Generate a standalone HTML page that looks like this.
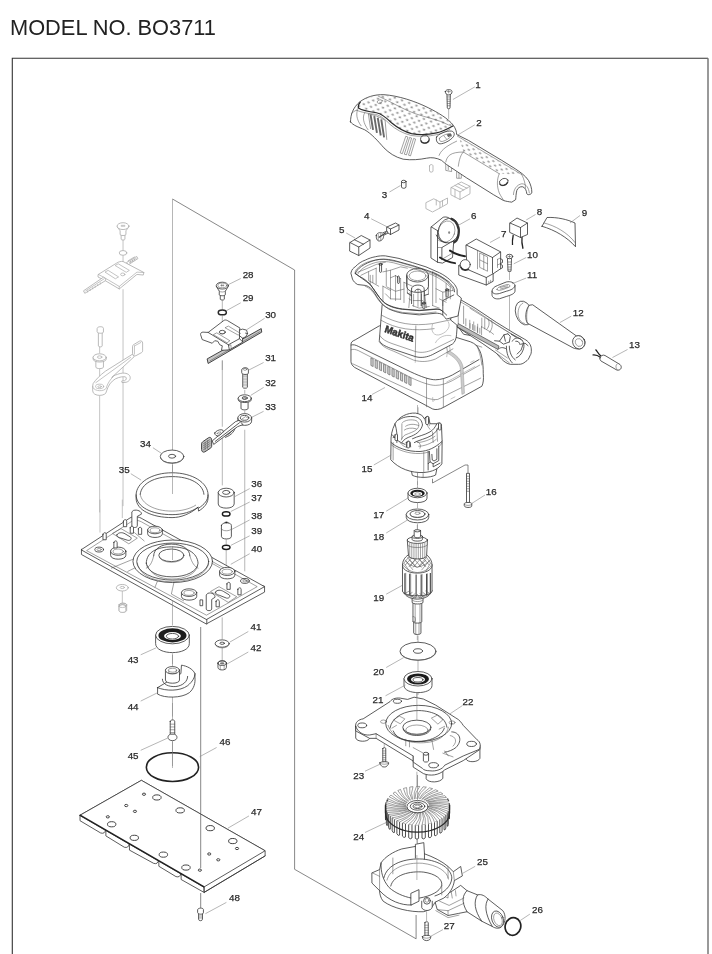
<!DOCTYPE html>
<html><head><meta charset="utf-8"><title>MODEL NO. BO3711</title>
<style>
html,body{margin:0;padding:0;background:#fff;}
body{width:712px;height:954px;overflow:hidden;position:relative;font-family:"Liberation Sans",sans-serif;}
svg{position:absolute;left:0;top:0;display:block;filter:grayscale(1)}
svg *{vector-effect:non-scaling-stroke}
svg text{font-family:"Liberation Sans",sans-serif;}
.t{font-size:9.8px;fill:#2a2a2a;text-anchor:middle;stroke:#2a2a2a;stroke-width:.25}
.l{stroke:#555;stroke-width:.7;fill:none}
.a{stroke:#858585;stroke-width:.6;fill:none}
.p{stroke:#333;stroke-width:.8;fill:#fff;stroke-linejoin:round;stroke-linecap:round}
.n{stroke:#333;stroke-width:.8;fill:none;stroke-linejoin:round;stroke-linecap:round}
.d{stroke:#555;stroke-width:.55;fill:none;stroke-linejoin:round;stroke-linecap:round}
.g{stroke:#aaa;stroke-width:.8;fill:#fff;stroke-linejoin:round;stroke-linecap:round}
.gn{stroke:#aaa;stroke-width:.7;fill:none;stroke-linejoin:round;stroke-linecap:round}
.k{fill:#222;stroke:none}
.s{fill:#999;stroke:none}
</style></head><body>
<svg width="712" height="954" viewBox="0 0 712 954">
<!-- 00_frame -->
<g id="frame">
<text x="10" y="34.5" font-size="21.8" fill="#222">MODEL NO. BO3711</text>
<path d="M12.3 954V58.3H708" fill="none" stroke="#333" stroke-width="1.1"/>
<path d="M708 58.3V954" fill="none" stroke="#777" stroke-width="1.5"/>
</g>
<!-- 01_axes -->
<g id="axes">
<!-- exploded-group box -->
<path class="l" d="M172.5 199L294.6 270V869.3L416.1 938.8V915"/>
<!-- main axis left -->
<path class="a" d="M172.5 199V452 M172.5 463V494 M172.5 546V560 M172.5 655V686 M172.5 703V722 M172.5 740V766"/>
</g>
<!-- 02_cover -->
<defs>
<pattern id="dots" width="46" height="40" patternUnits="userSpaceOnUse" patternTransform="rotate(20)">
<ellipse cx="11" cy="10" rx="8.5" ry="5.5" fill="#9a9a9a"/><ellipse cx="34" cy="30" rx="8.5" ry="5.5" fill="#9a9a9a"/>
</pattern>
<pattern id="dots2" width="46" height="36" patternUnits="userSpaceOnUse" patternTransform="rotate(31)">
<ellipse cx="11" cy="9" rx="8.5" ry="5.5" fill="#9a9a9a"/><ellipse cx="34" cy="27" rx="8.5" ry="5.5" fill="#9a9a9a"/>
</pattern>
</defs>
<g transform="translate(348 86) scale(0.16713)">
<!-- hooks under handle -->
<path class="d" d="M585,468 V505 L620,512 V490 M600,470 V500 M650,512 V552 L678,552 V530 M664,520 V550"/>
<!-- body outline -->
<path class="p" d="M15,215 C15,170 30,130 70,95 C110,65 160,50 215,52 C300,58 400,90 480,130 C540,160 600,195 630,235 C645,255 650,275 650,290 L720,325 L820,385 L920,445 L1000,495 C1030,515 1060,535 1080,565 C1092,585 1100,615 1100,635 C1100,650 1075,655 1070,645 C1068,625 1060,607 1045,603 C1030,600 1015,610 1010,625 C1005,645 1005,665 1003,680 L980,695 C960,692 945,690 930,685 L870,650 L790,600 L710,550 L650,510 L590,470 C575,458 565,450 560,445 C530,430 500,425 470,432 C430,440 380,445 330,438 C280,425 245,400 215,370 C180,330 140,285 100,262 C60,245 30,235 15,215 Z"/>
<!-- pad with dots -->
<path d="M75,95 C110,65 160,50 215,52 C300,58 400,90 480,130 C540,160 600,195 630,235 C600,255 560,275 530,280 C480,292 420,292 380,285 C330,272 290,245 260,220 C230,190 200,165 170,160 C130,155 90,150 62,132 C60,120 65,105 75,95Z" fill="url(#dots)" stroke="none"/>
<path stroke="#2a2a2a" stroke-width="1.2" fill="none" d="M75,95 C65,105 60,120 62,132 C90,150 130,155 170,160 C200,165 230,190 260,220 C290,245 330,272 380,285 C420,292 480,292 530,280 C560,275 600,255 630,238"/>
<path class="d" d="M50,145 C85,160 130,165 165,170 C195,176 222,200 252,230 C285,258 325,283 378,296 C420,303 480,303 532,291 C556,286 585,272 610,258"/>
<!-- center seam on pad -->
<path class="d" d="M180,60 C260,95 330,140 400,165 C470,190 540,200 600,232"/>
<!-- left rim -->
<path class="d" d="M62,132 C45,160 50,200 78,238 M20,165 C35,150 50,145 50,145"/>
<path class="d" d="M100,160 C85,185 90,220 120,262"/>
<!-- vents 1 -->
<path d="M135,172 L150,262 M157,180 L173,280 M178,190 L196,296 M199,200 L216,308" stroke="#6a6a6a" stroke-width="1.9" fill="none"/>
<path class="d" d="M122,168 C150,170 190,185 222,205 L232,320 M122,168 L135,255"/>
<!-- vents 2 -->
<path class="d" d="M345,303 L312,400 L325,405 L358,308Z M368,310 L337,408 L350,412 L380,314Z M392,316 L362,414 L374,418 L404,320Z"/>
<!-- boss -->
<ellipse class="n" cx="460" cy="318" rx="26" ry="24"/>
<path d="M436,325 C440,345 475,350 486,325" stroke="#333" stroke-width="1.3" fill="none"/>
<!-- switch opening -->
<path class="n" d="M530,305 C535,290 590,265 620,270 C640,275 640,295 625,310 C600,335 560,350 545,345 C530,340 525,320 530,305Z"/>
<path class="d" d="M548,312 C555,300 590,285 610,285 C622,288 620,298 612,306 C595,322 565,335 556,332 C546,328 545,320 548,312Z M575,300 L590,318 M600,288 L618,300"/>
<path d="M590,290 L615,284 L620,296 L600,306Z" fill="#666" stroke="none"/>
<!-- pad top hole -->
<ellipse class="d" cx="190" cy="93" rx="16" ry="10" transform="rotate(-20 190 93)"/>
<!-- handle dotted panel -->
<path d="M665,310 L1035,530 L905,525 L690,395Z" fill="url(#dots2)" stroke="none"/>
<path class="d" d="M655,300 L1040,530 M690,395 L905,525"/>
<!-- handle front ring -->
<path class="d" d="M545,415 C555,390 575,365 650,330 M585,455 C592,420 610,395 690,395 M660,480 C665,440 675,410 690,395"/>
<!-- end cap lines -->
<path class="d" d="M905,525 C890,560 890,600 905,640 C915,660 925,675 932,684 M1040,530 C1055,560 1062,590 1062,610"/>
<path class="d" d="M990,650 C990,620 1010,590 1040,585 C1065,585 1082,610 1085,640"/>
<ellipse class="n" cx="932" cy="574" rx="27" ry="20" transform="rotate(-25 932 574)"/>
<path d="M908,585 C915,600 945,598 956,575" stroke="#333" stroke-width="1.3" fill="none"/>
</g>
<!-- 03_small -->
<g transform="translate(330 170) scale(0.25)">
<!-- ghost connector/blocks -->
<path class="g" d="M385,130 L415,115 L440,128 L440,152 L410,168 L385,155Z M440,128 L470,112 L470,135 L440,152 M425,120 V140 M450,122 V142"/>
<path class="g" d="M485,70 L525,48 L560,65 L560,95 L520,118 L485,100Z M485,70 L520,88 L560,65 M520,88 V118 M500,62 L535,80 M512,55 L548,73 M500,78 V108"/>
<path class="g" d="M398,-16 V4 C398,10 412,10 412,4 V-16 C412,-24 398,-24 398,-16Z"/>
<!-- 3 -->
<path class="p" d="M286,46 V68 C286,75 304,75 304,68 V46"/>
<ellipse class="p" cx="295" cy="46" rx="9" ry="5"/>
<!-- 5 -->
<path class="p" d="M80,290 L125,262 L160,280 L160,312 L115,342 L80,325Z"/>
<path class="n" d="M80,290 L115,308 L160,280 M115,308 V342 M98,279 L134,297"/>
<!-- 4 -->
<path class="p" d="M228,228 L262,212 L276,220 L276,240 L242,258 L228,250Z"/>
<path class="n" d="M228,228 L242,236 L276,220 M242,236 V258"/>
<path class="p" d="M185,262 C185,252 200,248 210,252 L228,244 L232,252 L214,262 C216,275 205,285 195,284 C187,282 184,272 185,262Z"/>
<path class="d" d="M193,258 V280 M203,254 V282"/>
<path d="M195,270 L225,250" stroke="#444" stroke-width="1.4"/>
</g>
<g transform="translate(425 210) scale(0.125)">
<!-- 6 bracket -->
<path class="p" d="M50,135 L145,58 C165,52 190,58 200,70 L230,250 L220,380 L140,425 L100,418 L50,385Z"/>
<path class="n" d="M50,135 L100,165 L100,418 M100,165 L150,120 M135,395 V300 L220,250"/>
<path class="d" d="M100,235 C115,250 130,255 150,250 M100,300 L135,300"/>
<!-- 6 dial -->
<ellipse class="p" cx="190" cy="165" rx="82" ry="100" transform="rotate(18 190 165)"/>
<path d="M205,68 C250,85 280,140 268,200 C262,235 245,255 228,262" stroke="#333" stroke-width="2.2" fill="none"/>
<ellipse class="d" cx="172" cy="172" rx="66" ry="86" transform="rotate(18 172 172)"/>
<ellipse cx="193" cy="180" rx="8" ry="11" fill="#888"/>
<path class="n" d="M90,200 C110,240 140,262 170,262 M215,255 L240,240"/>
<!-- wires -->
<path d="M200,325 C230,345 280,365 320,370 M120,380 C150,400 200,420 240,425" stroke="#222" stroke-width="2" fill="none" stroke-linecap="round"/>
<path class="d" d="M135,395 L220,345"/>
<!-- 7 switch -->
<path class="p" d="M330,280 L410,232 L605,335 L605,470 L545,510 L545,570 L490,600 L270,520 L270,445 L330,400Z"/>
<path class="n" d="M330,280 L540,380 L605,335 M540,380 V505 M270,445 L490,540 L545,510 M490,540 V600"/>
<path class="d" d="M420,325 V470 M440,345 L500,375 V490 L440,460Z M440,400 L500,430 M470,360 V475 M580,395 L600,385 M580,440 L600,430 M580,395 V460"/>
<path class="n" d="M605,390 L620,398 V420 L605,428 M605,435 L620,443 V462 L605,470"/>
<circle class="p" cx="322" cy="437" r="40"/>
<path d="M285,455 C295,480 330,490 352,470" stroke="#333" stroke-width="1.6" fill="none"/>
<path class="d" d="M510,570 v15 M525,562 v15"/>
</g>
<!-- 04_screw1 -->
<g transform="translate(420 70) scale(0.16854)">
<path class="a" d="M170,232 V290"/>
<path class="p" d="M160,145 L162,225 C162,232 178,232 178,225 L180,145Z"/>
<path class="d" d="M161,160 h18 M161,173 h18 M162,186 h17 M162,199 h16 M162,212 h16"/>
<path class="p" d="M150,128 C150,112 190,112 190,128 C190,140 182,148 170,148 C158,148 150,140 150,128Z"/>
<path class="d" d="M160,128 h20 M170,120 v16"/>
</g>
<!-- 08_right_small -->
<g transform="translate(480 195) scale(0.25)">
<!-- axis 10-11 -->
<path class="a" d="M118,305 V340 M118,395 V560"/>
<!-- 8 capacitor -->
<path d="M133,160 C130,175 128,185 130,200 M168,165 C166,185 168,200 172,215" stroke="#222" stroke-width="1.3" fill="none"/>
<path class="p" d="M120,112 L148,92 L190,112 L190,158 L162,170 L120,150Z"/>
<path class="n" d="M120,112 L162,130 L190,112 M162,130 V170"/>
<!-- 9 plate -->
<path class="p" d="M248,125 L268,90 C310,88 350,98 380,112 L382,207 C350,170 300,140 248,125Z"/>
<path class="d" d="M256,112 C300,122 350,150 380,190"/>
<!-- 10 screw -->
<path class="p" d="M110,255 L112,305 L124,305 L126,255Z"/>
<path class="d" d="M111,268 h14 M111,278 h14 M112,288 h12 M112,297 h12"/>
<ellipse class="p" cx="118" cy="246" rx="13" ry="9"/>
<path class="d" d="M112,246 h12 M118,241 v10"/>
<!-- 11 clamp -->
<path class="p" d="M48,385 C48,375 55,368 70,362 L105,348 C122,344 138,350 140,362 L140,385 C138,395 125,400 105,406 L78,415 C60,418 48,410 48,400Z"/>
<path class="n" d="M48,385 C50,395 62,398 78,394 L105,385 C125,380 138,374 140,362"/>
<path class="d" d="M68,378 C68,372 75,368 85,365 L108,358 C118,357 122,362 118,368 L92,378 C80,382 68,384 68,378Z M80,370 L110,363 M82,376 L112,368"/>
<!-- 12 cord guard -->
<ellipse class="p" cx="176" cy="472" rx="33" ry="49" transform="rotate(-18 176 472)"/>
<path class="d" d="M172,432 C155,440 150,465 153,485 C156,500 165,512 178,514"/>
<path class="p" d="M212,440 L386,564 C400,560 415,568 420,586 C422,604 408,618 392,616 C380,615 372,612 368,609 L190,513 C180,500 180,460 196,442Z"/>
<path class="d" d="M196,442 C186,460 184,495 190,513"/>
<ellipse class="p" cx="395" cy="589" rx="24" ry="27" transform="rotate(-25 395 589)"/>
<ellipse class="d" cx="396" cy="590" rx="14" ry="16" transform="rotate(-25 396 590)"/>
<!-- 13 -->
<path d="M462,618 C470,625 472,635 485,645 M450,640 C462,638 472,642 483,650" stroke="#222" stroke-width="1.2" fill="none"/>
<path class="p" d="M480,652 C482,642 492,638 500,642 L560,678 C568,685 566,698 556,700 C550,702 546,700 540,696 L484,664 C480,660 479,656 480,652Z"/>
<path class="d" d="M548,676 C542,682 542,692 548,698"/>
</g>
<!-- 14_housing -->
<g transform="translate(340 250) scale(0.2809)">
<path class="a" d="M278,560 V600"/>
<!-- base skirt -->
<path class="p" d="M39,335 C39,328 44,324 54,320 L140,270 L407,309 L465,327 C480,333 490,342 494,352 C505,370 510,400 510,440 C512,460 510,475 505,485 L369,560 C355,568 340,570 330,566 L52,418 C44,412 39,405 39,398Z"/>
<path class="n" d="M40,338 C48,336 55,338 65,343 L250,433 C290,452 320,462 340,462 C360,462 380,455 400,445 L495,390"/>
<path class="d" d="M40,355 C48,352 55,354 65,358 L250,453 C290,472 320,482 340,482 C360,482 380,475 400,465 L497,410 M45,405 L312,528 C330,533 340,533 348,532 L501,456"/>
<path class="d" d="M308,458 V558 M368,460 V560"/>
<!-- gray strap + ghost inner lines on base -->
<path d="M380,366 C405,380 422,395 428,418 L434,514 L443,510 L438,415 C432,390 412,372 390,360Z" fill="#ccc" stroke="#999" stroke-width=".5"/>
<path class="gn" d="M300,250 C340,300 385,340 384,366 M320,250 C360,290 395,330 392,360 M380,470 L480,415 M360,300 C380,330 385,350 380,380 M250,330 C265,360 270,380 268,400 M395,530 l14,-7 M330,525 v14 l6,-3 M465,400 l12,-6"/>
<!-- vents -->
<path d="M110,384.0 l8,4 v27 l-8,-4z M125,391.5 l8,4 v27 l-8,-4z M140,399.0 l8,4 v27 l-8,-4z M155,406.5 l8,4 v27 l-8,-4z M170,414.0 l8,4 v27 l-8,-4z M185,421.5 l8,4 v27 l-8,-4z M200,429.0 l8,4 v27 l-8,-4z M215,436.5 l8,4 v27 l-8,-4z M230,444.0 l8,4 v27 l-8,-4z M245,451.5 l8,4 v27 l-8,-4z " fill="#d0d0d0" stroke="#666" stroke-width=".7"/>
<!-- neck -->
<path class="p" d="M150,195 L140,322 C145,335 160,342 180,350 L270,380 C290,385 310,382 330,372 L400,335 C410,328 414,315 415,300 L420,235Z"/>
<path class="d" d="M148,232 C200,262 260,272 330,262 L410,245 M270,270 L268,380 M146,250 C200,282 262,290 335,280 M142,305 C150,318 165,326 185,333 L270,362 C290,367 310,364 330,355 L405,318"/>
<path class="gn" d="M330,262 C320,290 335,310 360,300 C385,290 395,270 385,255 M340,330 C350,310 375,300 395,305"/>
<path class="d" d="M139,326 C150,345 170,352 190,360 L262,392 C290,400 315,398 340,388 L402,352"/>
<text x="0" y="0" transform="matrix(.95 .33 -.12 1 158 292)" font-size="36" font-weight="bold" font-style="italic" fill="#333" stroke="#333" stroke-width=".5" textLength="108" lengthAdjust="spacingAndGlyphs">Makita</text>
<circle class="k" cx="258" cy="308" r="3"/>
<!-- handle lower half -->
<path class="p" d="M405,160 L421,172 L481,207 L556,257 L616,294 L656,317 C672,325 680,338 681,352 C682,365 680,372 676,377 C672,388 668,393 661,397 C652,405 645,407 636,407 L606,407 C595,405 585,398 576,389 L556,367 L506,332 L463,304 L440,300 L416,267 L395,250Z"/>
<path class="d" d="M425,182 L482,215 L556,265 L616,302 L650,322"/>
<path d="M421,262 L566,342 L562,354 L417,274Z" fill="#bbb" stroke="#444" stroke-width=".7"/>
<path class="d" d="M448,245 v25 M462,250 v28 M476,256 v30 M490,264 v30 M504,272 v30"/>
<path class="d" d="M440,200 V262 M421,172 V262 "/>
<path class="n" d="M562,354 C570,346 580,345 592,352 M417,274 L463,304"/>
<!-- top rim -->
<path class="p" d="M39,81 C42,68 48,64 54,60 C65,48 78,40 90,36 C102,30 114,26 126,24 C138,21 150,20 162,21 L210,30 L258,45 L306,60 L354,81 C368,88 380,96 390,105 C398,112 404,118 408,123 C413,130 416,136 417,141 L417,159 L432,171 L420,235 L378,246 C372,238 368,234 366,231 C358,226 350,225 342,225 L282,231 L222,225 C205,222 188,216 174,210 C165,205 157,199 150,192 L132,168 C126,158 120,148 114,141 C106,132 98,128 90,126 L63,123 C54,118 48,112 45,105Z"/>
<path class="n" d="M54,84 C65,92 75,97 84,102 C93,108 101,115 108,123 L129,153 C135,163 142,172 150,180 C157,188 165,194 174,198 C188,205 205,209 222,211 L282,216 L342,211 C350,210 357,212 363,216 L380,232"/>
<path class="d" d="M54,84 C52,75 58,68 66,62 C78,50 100,40 126,36 C140,33 152,33 162,34 L208,43 L255,57 L302,72 L348,92 C365,100 380,112 392,125 C398,132 402,140 403,146"/>
<!-- interior -->
<path class="n" d="M237,90 V130 C240,158 312,158 315,130 V90"/>
<ellipse class="p" cx="276" cy="90" rx="39" ry="24"/>
<ellipse class="d" cx="276" cy="92" rx="30" ry="17"/>
<path class="d" d="M250,150 L245,205 M300,150 L308,205 M262,158 V200 M290,158 V200"/>
<path class="n" d="M366,231 L366,180 L405,160"/>
</g>
<!-- 14b_housing_detail -->
<g transform="translate(345 250) scale(0.16854)">
<path class="d" d="M75,132 L130,110 L185,86 L240,72 M95,150 L140,128 V182 L165,195 M140,128 L185,108 M165,150 L165,195 L200,215 M185,108 V200 M225,130 L270,120 V290 M270,120 L330,100 L370,108 M300,152 V300 M300,152 L270,165 M330,170 V292 M350,192 V312 M330,170 L300,152 M350,192 L400,215 M250,220 L300,245 L350,232 M240,260 L270,290 L330,292 M520,130 V330 M540,142 V312 M520,130 L560,150 L620,190 M540,230 L580,250 L640,240 M580,250 V330 M560,290 L600,310 M600,200 V300 M625,215 V290 M520,330 L560,345 M400,330 L440,345 L500,335"/>
<path class="n" d="M395,230 C395,200 470,200 470,232 V320 M415,245 C415,228 452,228 452,246 V330 M395,230 V318 M370,255 L395,270 M470,270 L495,262"/>
<path class="d" d="M433,232 V335 M405,300 h55 M380,290 L395,300"/>
<path class="p" d="M205,88 V128 C205,134 217,134 217,128 V88 C217,78 205,78 205,88Z"/>
<ellipse class="n" cx="211" cy="84" rx="10" ry="6"/>
<path class="p" d="M600,240 V275 C600,281 612,281 612,275 V240 C612,230 600,230 600,240Z"/>
<ellipse class="n" cx="606" cy="236" rx="10" ry="6"/>
<path class="p" d="M462,318 V345 C462,350 474,350 474,345 V318 C474,310 462,310 462,318Z"/>
<ellipse class="n" cx="468" cy="315" rx="10" ry="6"/>
<path class="p" d="M312,160 V195 C312,200 322,200 322,195 V160 C322,152 312,152 312,160Z"/>
<!-- rim inner double line -->
<path class="n" d="M62,138 C70,112 110,80 180,60 C215,52 245,52 290,62 L400,92 L480,118 C545,140 600,172 635,210 C645,222 650,235 650,248"/>
<path class="d" d="M78,140 C88,118 120,92 182,74 C215,66 245,66 288,76 L396,106 L476,132 C535,152 585,180 620,215"/>
<path class="n" d="M62,138 C85,160 120,180 150,205 C175,235 195,275 225,305 C250,328 290,342 340,350 L440,358 L540,350 C560,350 572,355 580,365"/>
<path class="d" d="M370,150 V255 M495,150 V262 M370,255 C385,270 395,272 395,272 M150,205 L150,150 M225,305 V215 M245,110 V215 M225,215 L270,240"/>
<!-- rim thickness shading lines -->
<path class="d" d="M120,215 C150,225 172,255 195,292 C215,322 245,345 290,358 L340,370 L440,378 L540,368"/>
</g>
<!-- 14c_handle_detail -->
<g transform="translate(470 295) scale(0.098315)">
<path class="d" d="M0,135 L400,385 L520,450 M120,235 V330 M150,240 V345 M185,245 C200,270 200,320 170,350 M215,260 C235,290 230,340 200,380 M130,330 L215,380 L240,400 M0,290 V340 M25,300 V352 M50,312 V365 M75,325 V378 M100,338 V390"/>
<path class="n" d="M250,465 L300,470 L345,405 L385,395 M300,470 L340,500 L395,480 M345,405 L360,470 M385,395 L410,420 L400,480 M420,400 L470,430 M430,470 C445,440 480,430 510,445 C545,465 560,510 540,560 C525,600 500,630 470,640 M465,470 C485,465 505,480 510,505 M520,500 L560,490 L590,515 M480,600 L520,560 L540,500 M400,520 C400,580 420,630 460,660 M370,520 C370,590 390,650 430,690"/>
<path class="d" d="M260,560 L380,640 M280,600 L400,690 M60,510 L120,530 M70,520 C90,560 110,620 120,712"/>
</g>
<!-- 15_field -->
<g transform="translate(380 405) scale(0.125)">
<!-- centerline -->
<path class="a" d="M300,0 V75 M300,580 V640"/>
<!-- bottom stub -->
<path class="p" d="M250,520 L258,562 C300,585 400,585 445,560 L455,510Z"/>
<path class="d" d="M300,545 V578 M345,548 V582"/>
<!-- body -->
<path class="p" d="M88,300 C85,250 95,200 120,150 C150,95 220,60 285,65 C320,70 345,85 355,110 L370,95 C385,85 395,95 392,110 L400,150 L455,150 C470,135 495,145 492,170 L497,290 L495,470 C470,510 420,535 350,540 C250,545 150,510 88,440Z"/>
<!-- top inner shapes -->
<path class="n" d="M120,150 C135,200 140,250 135,300 M150,120 C170,100 230,85 285,95 C320,105 335,125 340,160 C330,200 300,230 250,250 C215,262 190,275 175,300"/>
<path class="d" d="M180,140 C200,120 250,112 290,125 C312,140 318,165 300,190 C275,215 235,225 200,240 C185,250 175,262 170,280 M175,150 V270"/>
<path class="n" d="M100,240 C120,275 160,300 200,315 M105,260 L130,250 L140,285 M210,300 C215,285 240,285 242,300 L245,335 M210,300 L212,335"/>
<path class="n" d="M260,270 C300,250 360,240 400,215 C425,200 440,180 455,150 M275,300 C310,280 370,270 410,245 C440,225 460,200 470,175"/>
<path class="d" d="M290,290 C320,300 330,320 320,345 M355,110 C365,140 380,170 400,195 M370,95 L372,140 M392,110 L394,165"/>
<!-- extra field detail -->
<path class="p" d="M366,100 V150 C366,158 388,158 388,150 V100 C388,88 366,88 366,100Z"/>
<path class="p" d="M468,152 V195 C468,202 488,202 488,195 V152 C488,142 468,142 468,152Z"/>
<path class="p" d="M120,240 V280 C120,287 140,287 140,280 V240 C140,230 120,230 120,240Z"/>
<path class="p" d="M215,298 V338 C215,345 237,345 237,338 V298 C237,288 215,288 215,298Z"/>
<path class="d" d="M205,170 C230,150 280,150 310,165 M195,200 C215,185 250,180 290,190 M160,300 C175,320 195,335 215,340 M300,300 C340,300 400,280 440,250 M310,330 C350,330 410,310 450,275 M420,215 L425,300 M455,190 L460,290 M105,300 V440 M470,330 C485,325 492,315 495,300"/>
<!-- lamination band top edge -->
<path class="n" d="M88,300 C130,340 220,375 320,372 C380,368 440,345 497,290"/>
<path class="d" d="M92,320 C135,358 225,392 322,388 C360,385 380,380 395,372"/>
<!-- terminal slot -->
<path class="n" d="M385,372 V520 M395,372 L400,455 L425,470 L470,445 L470,330 M415,395 L418,440 L432,448 L455,435 L455,350 M400,455 L385,470 M425,470 L425,495 L480,465"/>
<path class="d" d="M350,380 V538"/>
</g>
<g transform="translate(340 380) scale(0.25)">
<!-- 16 screw + bracket line -->
<path class="l" d="M370,395 V412 L500,340 H512 V372"/>
<path class="p" d="M506,375 L506,492 L518,492 L518,375Z"/>
<path class="d" d="M506,385 h12 M506,395 h12 M506,405 h12 M506,415 h12 M506,425 h12 M506,435 h12 M506,445 h12"/>
<path class="p" d="M497,494 C497,488 527,488 527,494 L527,504 C527,512 497,512 497,504Z"/>
<path class="d" d="M497,498 C505,503 519,503 527,498"/>
<!-- 17 bearing -->
<path class="a" d="M310,405 V432 M310,490 V512 M310,575 V598"/>
<path class="p" d="M272,452 L272,473 C272,496 348,496 348,473 L348,452"/>
<ellipse class="p" cx="310" cy="452" rx="38" ry="19"/>
<path d="M281,453 A29,14 0 1 0 339,453 A29,14 0 1 0 281,453Z M291,455 A19,8.5 0 1 1 329,455 A19,8.5 0 1 1 291,455Z" fill="#1c1c1c" fill-rule="evenodd"/>
<ellipse class="d" cx="310" cy="456" rx="11" ry="5"/>
<!-- 18 washer -->
<path class="p" d="M265,538 L265,550 C265,578 355,578 355,550 L355,538"/>
<ellipse class="p" cx="310" cy="538" rx="45" ry="22"/>
<ellipse class="n" cx="310" cy="536" rx="30" ry="14"/>
<ellipse class="d" cx="310" cy="533" rx="10" ry="5"/>
<path class="d" d="M282,542 C290,552 330,552 338,542"/>
</g>
<!-- 19_armature -->
<g transform="translate(385 525) scale(0.1206)">
<path class="a" d="M268,0 V40 M268,915 V954"/>
<!-- lower shaft -->
<path class="p" d="M238,805 V895 C238,912 298,912 298,895 V805Z"/>
<path class="d" d="M255,815 V902 M282,815 V902"/>
<path class="p" d="M232,645 V800 C232,818 305,818 305,800 V645Z"/>
<path class="d" d="M250,655 V808 M290,655 V808 M232,760 C245,755 255,765 250,800 L232,800"/>
<!-- collar -->
<path class="p" d="M225,600 V640 C225,660 315,660 315,640 V600Z"/>
<path class="d" d="M225,622 C235,640 305,640 315,622"/>
<!-- lower coil -->
<path class="p" d="M148,545 C160,585 200,612 268,615 C335,612 378,585 390,545Z"/>
<path class="d" d="M200,575 L240,600 M300,600 L340,575 M268,570 L240,600 M268,570 L300,600"/>
<!-- core -->
<path class="p" d="M145,330 V548 C150,600 385,600 390,548 V330Z"/>
<path d="M165,400 V570 M205,405 V585 M258,410 V590 M300,410 V588 M345,405 V580 M376,398 V565" stroke="#444" stroke-width="1.1" fill="none"/>
<path class="d" d="M172,400 V572 M213,405 V586 M308,410 V588 M352,405 V578"/>
<!-- upper coil -->
<path class="p" d="M190,250 C160,270 145,300 145,335 C150,420 385,420 390,335 C390,300 375,270 348,250Z"/>
<path class="d" d="M175,300 C200,330 230,345 268,348 C305,345 340,330 365,300 M200,290 L255,345 M250,290 L210,340 M290,290 L335,340 M340,290 L285,345 M160,320 L200,380 M375,320 L340,380"/>
<!-- extra coil hatch -->
<path class="d" d="M160,560 C190,590 230,602 268,604 C310,602 350,590 378,560 M185,585 L225,560 M215,600 L250,568 M250,608 L268,575 L290,608 M320,600 L290,568 M350,586 L315,560 M170,565 L200,548 M368,565 L338,548"/>
<path class="d" d="M150,330 C180,375 230,392 268,394 C310,392 360,375 388,330 M165,290 L230,370 M190,270 L262,352 M225,262 L300,350 M265,262 L335,345 M305,262 L365,330 M345,270 L380,318 M372,290 L305,372 M345,268 L272,352 M310,262 L235,350 M270,262 L200,345 M230,262 L170,330 M195,268 L155,318"/>
<!-- commutator -->
<path class="p" d="M185,125 L195,255 C200,290 340,290 345,255 L352,125Z"/>
<path class="d" d="M205,150 V272 M222,155 V278 M240,158 V281 M258,160 V283 M276,160 V283 M294,158 V281 M312,155 V278 M330,150 V272"/>
<ellipse class="p" cx="268" cy="125" rx="84" ry="28"/>
<path class="d" d="M186,165 C200,195 335,195 351,165"/>
<!-- top collar and shaft -->
<path class="p" d="M225,95 V120 C225,138 310,138 310,120 V95Z"/>
<ellipse class="p" cx="268" cy="97" rx="43" ry="14"/>
<path class="p" d="M242,48 V95 C242,108 295,108 295,95 V48Z"/>
<ellipse class="p" cx="268" cy="48" rx="26" ry="9"/>
</g>
<g transform="translate(340 520) scale(0.25)">
<path class="a" d="M312,462 V488 M312,562 V604 M312,665 V700"/>
<!-- 20 washer -->
<ellipse class="p" cx="312" cy="525" rx="72" ry="36"/>
<path class="d" d="M241,530 C250,570 372,572 384,530"/>
<ellipse class="n" cx="312" cy="524" rx="18" ry="9"/>
<!-- 21 bearing -->
<path class="p" d="M256,635 V662 C256,700 368,700 368,662 V635"/>
<ellipse class="p" cx="312" cy="635" rx="56" ry="29"/>
<path d="M268,636 A44,22 0 1 0 356,636 A44,22 0 1 0 268,636Z M284,638 A28,13 0 1 1 340,638 A28,13 0 1 1 284,638Z" fill="#1c1c1c" fill-rule="evenodd"/>
<ellipse class="n" cx="312" cy="639" rx="20" ry="9"/>

</g>
<!-- 22_bearingbox -->
<g transform="translate(352 692) scale(0.18539)">
<path class="a" d="M350,0 V150 M350,430 V512"/>
<!-- legs -->
<path class="p" d="M20,185 V248 C25,270 85,272 95,250 V225Z"/>
<path class="p" d="M615,330 V362 C625,382 680,380 690,358 V300Z"/>
<path class="p" d="M400,420 V468 C410,492 478,490 490,465 V420Z"/>
<!-- plate side (thickness) -->
<path class="p" d="M20,185 L20,210 L95,250 L130,250 L330,372 L330,405 L385,440 C420,455 470,450 500,420 L600,370 L690,310 L690,285 L600,300 L330,300 Z"/>
<!-- top face -->
<path class="p" d="M20,185 C15,165 35,148 60,145 L205,52 C215,35 245,28 270,35 L300,40 L335,28 L385,38 L450,70 L560,140 C580,150 590,165 600,180 L675,258 C695,270 695,295 685,310 L600,345 L500,395 C490,415 455,430 420,425 C400,425 385,420 380,412 L330,378 L330,345 L130,225 L95,232 C60,235 30,215 20,185Z"/>
<path class="d" d="M130,225 L130,250 M330,345 L330,372"/>
<!-- corner holes -->
<ellipse class="n" cx="55" cy="180" rx="24" ry="13"/>
<ellipse class="n" cx="245" cy="50" rx="22" ry="11"/>
<ellipse class="n" cx="645" cy="280" rx="26" ry="14"/>
<ellipse class="n" cx="440" cy="395" rx="26" ry="14"/>
<ellipse class="d" cx="170" cy="160" rx="16" ry="9"/>
<ellipse class="d" cx="540" cy="165" rx="16" ry="9"/>
<!-- rings -->
<ellipse class="n" cx="360" cy="170" rx="178" ry="98"/>
<path class="n" d="M205,195 C215,130 290,100 360,100 C440,102 505,135 512,190"/>
<path class="d" d="M195,180 C220,260 330,285 420,270 C480,258 515,225 520,190"/>
<path class="n" d="M222,210 C240,262 330,275 400,262 C450,252 490,225 498,195"/>
<ellipse class="n" cx="350" cy="190" rx="76" ry="38"/>
<path class="n" d="M276,200 C285,245 410,248 425,200"/>
<ellipse class="d" cx="350" cy="205" rx="60" ry="27"/>
<!-- spokes/pockets -->
<path class="d" d="M225,150 L255,130 L285,145 L262,170Z M430,140 L460,125 L490,150 L465,172Z M215,195 L240,180 M470,200 L500,185"/>
<!-- right half ring -->
<path class="n" d="M538,215 C580,215 600,260 560,300 C545,312 520,322 500,325"/>
<path class="d" d="M530,235 C560,240 570,268 545,292 M490,330 L545,350 M500,318 L520,345"/>
<!-- front posts -->
<path class="p" d="M385,335 V372 C388,380 410,380 413,372 V335"/>
<ellipse class="p" cx="399" cy="333" rx="14" ry="8"/>
<path class="d" d="M290,255 V290 M310,262 V296 M430,255 L440,310 M330,300 L385,330"/>
<!-- 23 screw -->
<path class="p" d="M166,305 V378 H182 V305 C182,298 166,298 166,305Z"/>
<path class="d" d="M166,318 h16 M166,330 h16 M166,342 h16 M166,354 h16 M166,366 h16"/>
<path class="p" d="M150,382 C150,374 198,374 198,382 C198,392 190,396 188,400 C185,406 163,406 160,400 C158,396 150,392 150,382Z"/>
<path class="d" d="M150,384 C160,392 188,392 198,384"/>
<path class="a" d="M174,278 V298"/>
</g>
<!-- 24_fan -->
<g transform="translate(378 775) scale(0.11798)">
<path class="a" d="M335,0 V225 M335,545 V636"/>
<path d="M63,262 A272,165 0 0 1 607,262 V380 A272,165 0 0 1 63,380 Z" fill="#fff" stroke="none"/>
<path d="M433,264 Q519,274 596,308 L587,324 Q517,282 432,268 M430,276 Q511,297 575,340 L560,354 Q506,304 428,280 M423,288 Q495,318 543,368 L524,381 Q488,325 420,291 M412,298 Q472,337 502,392 L479,402 Q463,343 408,302 M398,307 Q444,353 454,410 L428,417 Q433,357 393,310 M381,314 Q410,365 401,422 L373,425 Q398,367 375,316 M362,319 Q373,372 344,427 L316,427 Q361,373 356,320 M342,321 Q335,374 288,424 L260,421 Q322,374 335,321 M322,321 Q296,372 233,415 L207,408 Q284,370 315,320 M302,318 Q260,364 183,399 L160,388 Q248,361 296,316 M284,313 Q226,353 139,377 L120,363 Q216,348 278,310 M267,305 Q198,337 104,349 L90,334 Q189,331 263,302 M254,295 Q175,318 79,318 L71,302 Q169,311 250,292 M244,285 Q159,297 66,285 L63,268 Q156,289 242,281 M239,273 Q151,274 64,250 L67,233 Q150,266 238,268 M237,260 Q151,250 74,216 L83,200 Q153,242 238,256 M240,248 Q159,227 95,184 L110,170 Q164,220 242,244 M247,236 Q175,206 127,156 L146,143 Q182,199 250,233 M258,226 Q198,187 168,132 L191,122 Q207,181 262,222 M272,217 Q226,171 216,114 L242,107 Q237,167 277,214 M289,210 Q260,159 269,102 L297,99 Q272,157 295,208 M308,205 Q297,152 326,97 L354,97 Q309,151 314,204 M328,203 Q335,150 382,100 L410,103 Q348,150 335,203 M348,203 Q374,152 437,109 L463,116 Q386,154 355,204 M368,206 Q410,160 487,125 L510,136 Q422,163 374,208 M386,211 Q444,171 531,147 L550,161 Q454,176 392,214 M403,219 Q472,187 566,175 L580,190 Q481,193 407,222 M416,229 Q495,206 591,206 L599,222 Q501,213 420,232 M426,239 Q511,227 604,239 L607,256 Q514,235 428,243 M431,251 Q519,250 606,274 L603,291 Q520,258 432,256 " stroke="#505050" stroke-width=".55" fill="none" stroke-linejoin="round"/>
<path d="M596,308 V418 Q592,442 587,434 V324 M575,340 V450 Q568,473 560,464 V354 M543,368 V478 Q533,500 524,491 V381 M502,392 V502 Q491,523 479,512 V402 M454,410 V520 Q441,540 428,527 V417 M401,422 V532 Q387,550 373,535 V425 M344,427 V537 Q330,553 316,537 V427 M288,424 V534 Q274,549 260,531 V421 M233,415 V525 Q220,537 207,518 V408 M183,399 V509 Q171,520 160,498 V388 M139,377 V487 Q130,496 120,473 V363 M104,349 V459 Q97,468 90,444 V334 M79,318 V428 Q75,436 71,412 V302 M66,285 V382 Q64,389 63,364 V268 M64,250 V302 Q65,310 67,285 V233 M74,216 V224 Q78,232 83,208 V200 M591,206 V200 Q595,224 599,216 V222 M604,239 V277 Q606,301 607,294 V256 M606,274 V356 Q605,380 603,373 V291 " stroke="#2e2e2e" stroke-width=".85" fill="#fff" stroke-linejoin="round"/>
<path d="M63,252 V320 A272,165 0 0 0 607,320 V252" fill="none" stroke="#2a2a2a" stroke-width="1.2"/>
<ellipse class="p" cx="335" cy="268" rx="90" ry="52"/>
<path class="d" d="M245,275 C255,338 415,338 425,275"/>
<ellipse class="n" cx="335" cy="265" rx="62" ry="33"/>
<ellipse class="n" cx="335" cy="265" rx="38" ry="19"/>
<ellipse class="d" cx="335" cy="267" rx="24" ry="11"/>
</g>
<!-- 25_nozzle -->
<g transform="translate(368 838) scale(0.21067)">
<path class="a" d="M232,0 V25 M232,80 V200 M278,350 V395"/>
<!-- duct -->
<path class="p" d="M318,295 L395,255 L440,225 L470,250 L520,270 C540,265 555,275 570,290 L640,345 C655,365 655,400 635,420 C625,432 605,430 590,420 L540,395 L470,350 L430,358 L380,368 L330,340Z"/>
<path class="n" d="M470,250 C450,270 440,300 470,350 M520,270 C500,300 505,345 540,395 M570,290 C552,315 555,360 590,420"/>
<path class="d" d="M330,340 L380,345 L380,368 M380,345 L455,310 M340,300 L385,320 L455,285 M360,275 L380,285 L380,265 M395,255 L400,285 M415,250 L418,275"/>
<path class="d" d="M322,345 L380,378 L432,366"/>
<ellipse class="p" cx="615" cy="385" rx="27" ry="40" transform="rotate(-20 615 385)"/>
<ellipse class="d" cx="617" cy="386" rx="19" ry="31" transform="rotate(-20 617 386)"/>
<!-- bowl outer -->
<path class="p" d="M20,165 L55,150 L62,118 C80,90 120,65 160,52 L225,40 L225,30 L265,22 L268,75 C310,90 350,110 380,135 L405,160 L440,135 L448,180 L410,202 C405,235 390,262 360,285 L318,305 C305,330 290,345 262,350 C200,352 120,335 72,300 C60,285 55,265 55,250 L20,215Z"/>
<!-- inner rim ellipses -->
<path class="n" d="M62,118 C60,160 70,200 100,235 C130,262 170,278 205,285 M268,75 L268,100 M225,40 V95"/>
<path class="n" d="M75,190 C90,120 180,95 260,100 C340,108 395,145 398,190 C395,230 360,262 318,275"/>
<path class="d" d="M90,200 C105,140 185,115 258,120 C330,128 378,160 382,195"/>
<path class="n" d="M108,228 C120,175 200,155 265,162 C320,170 355,195 350,225 C340,255 300,275 245,285"/>
<path class="d" d="M55,150 L55,250 M20,165 L55,182 M118,95 V170 M380,135 V190 M350,225 V270 M405,160 L410,202"/>
<!-- front tab -->
<path class="p" d="M205,262 L242,245 L242,300 L205,318Z"/>
<path class="n" d="M55,250 C100,300 160,320 205,318"/>
<!-- screw boss -->
<path class="p" d="M255,300 V330 C262,350 300,348 305,328 V300"/>
<circle class="p" cx="280" cy="298" r="16"/>
<circle class="d" cx="280" cy="296" r="9"/>
<!-- 26 o-ring -->
<ellipse cx="688" cy="420" rx="37" ry="42" fill="none" stroke="#222" stroke-width="1.7" transform="rotate(15 688 420)"/>
<!-- 27 screw -->
<path class="p" d="M270,402 V462 H286 V402 C286,396 270,396 270,402Z"/>
<path class="d" d="M270,414 h16 M270,426 h16 M270,438 h16 M270,450 h16"/>
<path class="p" d="M258,468 C258,460 298,460 298,468 C298,480 292,486 278,487 C264,486 258,480 258,468Z"/>
<path class="d" d="M258,470 C268,478 288,478 298,470"/>
</g>
<!-- 28_clamp -->
<g transform="translate(195 275) scale(0.10112)">
<path class="a" d="M270,250 V340 M270,400 V545 M270,850 V939"/>
<!-- 28 pin -->
<path class="p" d="M250,195 V240 C250,250 290,250 290,240 V195Z"/>
<path class="p" d="M212,115 L240,160 V195 C240,208 300,208 300,195 V160 L328,115Z"/>
<path class="d" d="M240,160 C250,172 290,172 300,160"/>
<ellipse class="p" cx="270" cy="105" rx="60" ry="34"/>
<ellipse class="d" cx="270" cy="103" rx="44" ry="23"/>
<path class="d" d="M255,103 h30 M262,96 v14 M278,96 v14"/>
<!-- 29 ring -->
<ellipse cx="270" cy="370" rx="40" ry="24" fill="none" stroke="#2a2a2a" stroke-width="1.5"/>
<!-- 30 bar -->
<path d="M120,830 L655,530 L660,565 L130,875Z" fill="#c8c8c8" stroke="#333" stroke-width=".9" stroke-linejoin="round"/>
<path class="d" d="M150,848 L642,560"/>
<!-- 30 plate -->
<path class="p" d="M55,585 C55,572 65,565 80,565 L130,568 L285,450 C295,442 310,445 320,450 L445,525 L440,545 L470,535 L510,545 L520,580 L500,612 L470,625 L470,665 L340,740 L262,745 L270,700 L245,690 L225,655 L195,650 L170,675 L75,640Z"/>
<path class="n" d="M130,568 L330,690 L340,740 M330,690 L440,630 L440,545 M440,630 L470,660 M500,575 L520,580 M470,625 L440,600"/>
<path class="d" d="M185,588 L215,572 L345,650 L320,668Z M300,520 L330,505 L450,578 L430,592Z M330,700 L355,690 L358,725"/>
<ellipse class="n" cx="270" cy="565" rx="30" ry="18"/>
<path class="d" d="M245,572 C255,585 285,585 295,572"/>
</g>
<!-- 31_lever -->
<g transform="translate(195 360) scale(0.10112)">
<path class="a" d="M270,0 V660 M270,760 V1240 M492,295 V335 M492,500 V530 M492,690 V2090"/>
<!-- 31 bolt -->
<path class="p" d="M472,135 V270 C472,282 518,282 518,270 V135Z"/>
<path d="M472,150 h46 M472,165 h46 M472,180 h46 M472,195 h46 M472,210 h46 M472,225 h46 M472,240 h46 M472,255 h46" stroke="#777" stroke-width=".5" fill="none"/>
<path class="p" d="M462,95 C462,70 528,70 528,95 V130 C528,148 462,148 462,130Z"/>
<ellipse class="d" cx="495" cy="92" rx="18" ry="10"/>
<!-- 32 sleeve -->
<path class="p" d="M455,405 V478 C455,498 525,498 525,478 V405Z"/>
<path class="p" d="M427,380 V392 C427,430 557,430 557,392 V380Z"/>
<ellipse class="p" cx="492" cy="378" rx="65" ry="34"/>
<ellipse class="n" cx="492" cy="376" rx="26" ry="14"/>
<ellipse class="d" cx="492" cy="378" rx="14" ry="7"/>
<!-- 33 lever -->
<path class="p" d="M424,575 V605 C424,660 560,660 560,605 V575Z"/>
<ellipse class="p" cx="492" cy="572" rx="68" ry="42"/>
<ellipse class="n" cx="490" cy="572" rx="42" ry="24"/>
<path class="d" d="M462,585 L500,560 L520,572"/>
<!-- spring loop -->
<path class="n" d="M400,650 C400,700 360,745 300,765 M385,660 C380,700 345,735 295,750"/>
<!-- arm -->
<path class="p" d="M432,598 L400,610 L170,800 L185,835 L420,660 L470,640Z"/>
<path class="n" d="M440,620 L200,805"/>
<!-- hook -->
<path class="p" d="M195,722 C200,705 240,685 265,690 C285,695 285,710 270,722 L235,748 C215,755 195,745 195,722Z"/>
<path class="d" d="M220,725 C225,715 245,708 255,712 C258,718 250,725 240,730 C230,735 220,732 220,725Z"/>
<!-- pedal -->
<path d="M65,830 C65,818 72,812 80,806 L135,768 C150,760 165,770 165,790 V850 C165,860 160,868 150,874 L98,908 C80,918 65,905 65,885Z" fill="#c4c4c4" stroke="#333" stroke-width=".9"/>
<path class="d" d="M80,830 L150,785 M80,850 L150,805 M80,870 L150,825 M80,890 L150,845 M100,812 V890 M125,795 V875"/>
</g>
<!-- 34_ring -->
<g transform="translate(60 430) scale(0.29494)">
<!-- 34 washer -->
<ellipse class="p" cx="380" cy="90" rx="40" ry="22"/>
<path class="d" d="M341,94 C348,120 412,120 419,94"/>
<ellipse class="n" cx="380" cy="89" rx="12" ry="6.5"/>
<!-- 35 band -->
<path class="p" d="M258,220 C258,178 312,145 380,145 C448,145 502,178 502,220 L502,232 C500,250 490,262 470,275 L468,262 C440,285 410,297 380,297 C312,297 258,272 258,232Z"/>
<path class="n" d="M258,220 C258,262 312,287 380,287 C415,287 445,278 468,262 M502,220 C502,238 490,252 470,265"/>
<path class="n" d="M272,218 C275,182 320,158 380,158 C440,158 485,182 488,218"/>
<path class="d" d="M272,218 C276,250 320,275 380,275 C410,275 440,268 460,255"/>
</g>
<g transform="translate(180 400) scale(0.19915)">
<path class="a" d="M232,700 V725 M232,755 V838"/>
<!-- 36 sleeve -->
<path class="p" d="M192,465 V522 C192,550 272,550 272,522 V465Z"/>
<ellipse class="p" cx="232" cy="465" rx="40" ry="22"/>
<ellipse class="n" cx="232" cy="464" rx="18" ry="10"/>
<!-- 37 o-ring -->
<ellipse cx="232" cy="572" rx="19" ry="11" fill="none" stroke="#1a1a1a" stroke-width="1.5"/>
<!-- 38 pin -->
<path class="p" d="M208,630 V685 C208,702 258,702 258,685 V630 C258,612 208,612 208,630Z"/>
<path class="d" d="M208,648 C215,660 250,660 258,648 M220,618 C225,610 240,610 246,618"/>
<ellipse class="k" cx="233" cy="615" rx="6" ry="4"/>
<!-- 39 o-ring -->
<ellipse cx="232" cy="740" rx="19" ry="11" fill="none" stroke="#1a1a1a" stroke-width="1.5"/>
</g>
<!-- 40_base -->
<g transform="translate(76 500) scale(0.27247)">
<!-- ghost lines left -->
<path class="gn" d="M88,0 V118 M170,0 V65 M170,335 V380"/>
<!-- ghost washer + nut -->
<ellipse class="g" cx="170" cy="322" rx="22" ry="12"/><ellipse class="gn" cx="170" cy="321" rx="8" ry="4"/>
<path class="g" d="M158,385 V405 C158,414 186,414 186,405 V385 C186,376 158,376 158,385Z"/><ellipse class="gn" cx="172" cy="385" rx="14" ry="6"/>
<!-- slab side -->
<path class="p" d="M20,182 V200 L478,455 L692,338 V318Z"/>
<!-- top face -->
<path class="p" d="M20,182 L198,66 C210,58 230,60 245,70 L692,318 L480,438Z"/>
<path class="n" d="M480,438 V455"/>
<path class="d" d="M40,185 L205,78 C215,72 228,74 240,80 L665,318 L480,422Z"/>
<!-- ribs -->
<path class="d" d="M215,215 L130,250 M225,245 L190,262 M250,150 L215,120 M495,230 L530,250 M360,300 L350,345 L395,370 M300,295 L290,320"/>
<!-- hub rings -->
<ellipse class="p" cx="355" cy="225" rx="146" ry="78"/>
<ellipse class="n" cx="355" cy="226" rx="132" ry="68"/>
<path class="d" d="M225,232 C235,285 300,300 355,300 C420,298 480,275 487,232"/>
<path class="n" d="M258,232 C258,190 300,172 350,172 C405,172 445,192 448,232 C445,262 405,282 352,282 C300,282 260,262 258,232Z"/>
<path class="d" d="M262,240 C275,275 310,290 352,290 C400,290 440,272 446,242"/>
<path class="n" d="M285,205 C285,178 315,162 350,162 C390,162 418,180 418,205"/>
<ellipse class="n" cx="350" cy="203" rx="46" ry="23"/>
<path class="d" d="M306,210 C315,235 385,235 395,210 M285,205 C280,230 270,245 258,250 M418,205 C425,230 435,245 448,250"/>
<!-- bosses -->
<path class="p" d="M127,188 V203 C127,222 183,222 183,203 V188Z"/><ellipse class="p" cx="155" cy="188" rx="28" ry="15"/><ellipse class="d" cx="155" cy="189" rx="19" ry="9"/>
<path class="p" d="M263,110 V124 C263,142 317,142 317,124 V110Z"/><ellipse class="p" cx="290" cy="110" rx="27" ry="14"/><ellipse class="d" cx="290" cy="111" rx="18" ry="9"/>
<path class="p" d="M387,340 V354 C387,372 443,372 443,354 V340Z"/><ellipse class="p" cx="415" cy="340" rx="28" ry="14"/><ellipse class="d" cx="415" cy="341" rx="19" ry="9"/>
<path class="p" d="M527,262 V276 C527,294 583,294 583,276 V262Z"/><ellipse class="p" cx="555" cy="262" rx="28" ry="15"/><ellipse class="d" cx="555" cy="263" rx="19" ry="9"/>
<!-- corner holes -->
<ellipse class="n" cx="85" cy="182" rx="16" ry="9"/><ellipse class="d" cx="85" cy="182" rx="8" ry="4"/>
<ellipse class="n" cx="620" cy="297" rx="16" ry="9"/><ellipse class="d" cx="620" cy="297" rx="8" ry="4"/>
<!-- slots -->
<path class="n" d="M150,128 C155,118 170,118 180,124 L200,136 C206,142 200,150 190,148 L165,140 C155,138 148,134 150,128Z"/>
<path class="d" d="M135,122 L165,105 L225,140 L195,160Z"/>
<path class="n" d="M512,338 C517,328 532,330 542,336 L562,348 C568,354 562,362 552,360 L527,350 C517,348 510,344 512,338Z"/>
<path class="d" d="M495,335 L525,318 L590,355 L560,375Z"/>
<!-- posts left -->
<path class="p" d="M205,45 V95 C205,103 225,103 225,95 V60 L240,52 C242,42 225,34 212,38Z"/>
<path class="p" d="M174,78 V98 h12 V78 C186,70 174,70 174,78Z M199,102 V122 h12 V102 C211,94 199,94 199,102Z M229,106 V126 h12 V106 C241,98 229,98 229,106Z M99,126 V146 h12 V126 C111,118 99,118 99,126Z M139,156 V176 h12 V156 C151,148 139,148 139,156Z"/>
<!-- posts right -->
<path class="p" d="M478,350 V400 C478,408 498,408 498,400 V365 L510,357 C512,347 498,338 485,342Z"/>
<path class="p" d="M554,308 V328 h12 V308 C566,300 554,300 554,308Z M594,328 V348 h12 V328 C606,320 594,320 594,328Z M514,372 V392 h12 V372 C526,364 514,364 514,372Z M455,368 V388 h10 V368Z"/>
</g>
<!-- 41_lower -->
<g transform="translate(100 600) scale(0.2809)">
<path class="a" d="M435,62 V140 M435,170 V215 M258,0 V90 M258,190 V228 M258,345 V415"/>
<!-- ghost nut top-left -->
<path class="g" d="M68,22 V38 C68,46 92,46 92,38 V22 C92,14 68,14 68,22Z"/><ellipse class="gn" cx="80" cy="22" rx="12" ry="5"/>
<!-- 41 washer -->
<ellipse class="p" cx="435" cy="155" rx="25" ry="13"/>
<path class="d" d="M410,158 C415,175 455,175 460,158"/>
<ellipse class="n" cx="435" cy="154" rx="8" ry="4"/>
<!-- 42 nut -->
<path class="p" d="M420,225 V240 C420,252 450,252 450,240 V225 C450,213 420,213 420,225Z"/>
<ellipse class="n" cx="435" cy="225" rx="15" ry="8"/>
<ellipse cx="435" cy="226" rx="8" ry="4" fill="#777"/>
<path class="d" d="M428,233 V248 M442,233 V248"/>
<!-- 43 bearing -->
<path class="p" d="M198,125 V155 C198,198 318,198 318,155 V125"/>
<ellipse class="p" cx="258" cy="125" rx="60" ry="31"/>
<path d="M208,126 A50,25 0 1 0 308,126 A50,25 0 1 0 208,126Z M228,128 A30,14 0 1 1 288,128 A30,14 0 1 1 228,128Z" fill="#1c1c1c" fill-rule="evenodd"/>
<ellipse class="n" cx="258" cy="129" rx="22" ry="10"/>

<!-- 44 balance weight -->
<path class="p" d="M205,312 V335 C230,350 290,350 318,330 C335,315 340,295 338,275 L338,262 C330,245 310,235 290,232 L288,262 L205,312Z"/>
<path class="n" d="M205,312 C235,325 285,325 312,305 C330,290 338,275 338,262"/>
<path class="n" d="M222,282 C222,300 245,310 270,308 C295,305 312,290 312,272"/>
<path class="p" d="M233,250 V285 C233,300 283,300 283,285 V250Z"/>
<ellipse class="p" cx="258" cy="250" rx="25" ry="13"/>
<ellipse class="d" cx="258" cy="250" rx="15" ry="7"/>
<path class="d" d="M245,252 V262 H271 V252"/>
<!-- 45 screw -->
<path class="p" d="M250,432 V480 H266 V432 C266,425 250,425 250,432Z"/>
<path class="d" d="M250,442 h16 M250,452 h16 M250,462 h16 M250,472 h16"/>
<path class="p" d="M250,478 C240,482 240,492 246,497 C252,502 264,502 270,497 C276,492 276,482 266,478Z"/>
<!-- 46 o-ring -->
<ellipse cx="258" cy="595" rx="93" ry="51" fill="none" stroke="#222" stroke-width="1.6"/>
<path class="a" d="M258,505 V598"/>
</g>
<g transform="translate(60 770) scale(0.32303)">
<!-- 47 pad -->
<path class="p" d="M62,140 L252,32 L635,250 V266 L446,379 L446,362Z"/>
<path class="p" d="M62,140 v17 L126,195 Q139,199 141,186 M142,187 v17 L199,239 Q212,243 214,230 M215,231 v17 L290,289 Q303,293 305,280 M306,281 v17 L359,330 Q372,334 374,321 M375,322 v17 L446,379 "/>
<path class="p" d="M62,140 L252,32 L635,250 L446,362Z"/>
<path d="M62,140 L446,362" stroke="#222" stroke-width="1.4" fill="none"/>
<path class="n" d="M446,362 V379 L635,266"/>
<g fill="none" stroke="#444" stroke-width="1">
<ellipse cx="300" cy="85" rx="13" ry="8"/><ellipse cx="372" cy="125" rx="13" ry="8"/><ellipse cx="465" cy="180" rx="13" ry="8"/><ellipse cx="535" cy="220" rx="13" ry="8"/>
<ellipse cx="160" cy="168" rx="13" ry="8"/><ellipse cx="230" cy="210" rx="13" ry="8"/><ellipse cx="320" cy="262" rx="13" ry="8"/><ellipse cx="390" cy="302" rx="13" ry="8"/>
<ellipse cx="260" cy="75" rx="5" ry="3.5"/><ellipse cx="205" cy="110" rx="5" ry="3.5"/><ellipse cx="232" cy="128" rx="5" ry="3.5"/><ellipse cx="148" cy="145" rx="5" ry="3.5"/>
<ellipse cx="548" cy="243" rx="5" ry="3.5"/><ellipse cx="462" cy="260" rx="5" ry="3.5"/><ellipse cx="490" cy="278" rx="5" ry="3.5"/><ellipse cx="433" cy="310" rx="5" ry="3.5"/>
</g>
<!-- 48 screw -->
<path class="p" d="M429,440 V462 C429,468 441,468 441,462 V440Z"/>
<path class="p" d="M426,432 C426,426 444,426 444,432 V442 C444,448 426,448 426,442Z"/>
<path class="d" d="M429,452 h12 M429,458 h12"/>
</g>
<!-- 50_ghost -->
<g transform="translate(75 215) scale(0.1264)">
<path class="gn" d="M380,200 V280 M380,322 V450 M380,590 V2300 M195,1046 V1092 M195,1216 V1310 M195,1430 V2350"/>
<!-- ghost pin -->
<path class="g" d="M365,155 V192 C365,200 395,200 395,192 V155Z"/>
<path class="g" d="M335,95 L357,125 V155 C357,165 403,165 403,155 V125 L425,95Z"/>
<ellipse class="g" cx="380" cy="88" rx="47" ry="27"/>
<path class="gn" d="M365,86 h30 M372,80 v12 M388,80 v12"/>
<!-- ghost ring -->
<ellipse class="g" cx="380" cy="300" rx="30" ry="19"/>
<!-- ghost plate -->
<path class="g" d="M410,375 L488,328 L498,345 L425,392Z"/>
<path class="gn" d="M420,362 L470,332 M430,375 L485,343 M440,365 v12 M455,356 v12 M470,347 v12"/>
<path class="g" d="M185,470 L330,380 C345,370 365,365 380,368 L545,455 L540,475 L490,470 L350,585 L240,520 L185,492Z"/>
<path class="gn" d="M185,470 L240,500 L350,565 L490,452 L545,455 M350,565 V585 M240,450 L262,438 L345,490 L322,503Z M320,398 L342,386 L430,438 L408,452Z"/>
<ellipse class="gn" cx="378" cy="470" rx="17" ry="11"/>
<path class="g" d="M70,598 L225,492 L245,505 L240,520 L80,618Z"/>
<path class="gn" d="M85,600 L230,505 M100,600 v10 M120,588 v10 M140,575 v10 M160,562 v10 M180,549 v10 M200,536 v10"/>
</g>
<g transform="translate(75 315) scale(0.1264)">
<!-- ghost bolt -->
<path class="g" d="M185,138 V245 C185,255 215,255 215,245 V138Z"/>
<path class="g" d="M175,105 C175,88 225,88 225,105 V135 C225,148 175,148 175,135Z"/>
<!-- ghost sleeve -->
<path class="g" d="M165,358 V412 C165,428 225,428 225,412 V358Z"/>
<path class="g" d="M143,338 V348 C143,380 247,380 247,348 V338Z"/>
<ellipse class="g" cx="195" cy="335" rx="52" ry="28"/>
<ellipse class="gn" cx="195" cy="333" rx="18" ry="10"/>
<!-- ghost pedal -->
<path class="g" d="M455,248 C455,240 460,236 468,232 L510,207 C525,200 535,210 535,222 V282 C535,292 530,296 522,300 L482,322 C468,328 455,318 455,306Z"/>
<path class="gn" d="M470,245 L470,310 M470,245 L520,218"/>
<!-- ghost lever -->
<path class="g" d="M140,565 V600 C140,648 250,648 250,600 C262,560 285,525 320,505 C350,490 385,485 400,490 C412,500 405,515 392,520 L370,522 L372,535 L405,532 C432,525 445,500 432,480 C415,455 370,455 335,470 C315,475 300,485 290,495 L468,330 L455,310 L240,445 C200,475 165,510 145,540Z"/>
<path class="gn" d="M140,565 C140,610 250,610 250,568 C262,535 280,510 300,490 M165,535 L440,335"/>
<ellipse class="gn" cx="195" cy="565" rx="32" ry="18"/>
<ellipse class="gn" cx="195" cy="567" rx="14" ry="7"/>
</g>
<!-- 89_axes_top -->
<g id="axes-top">
<path class="l" d="M200.7 627V868 M200.7 893V908"/>
<path class="a" d="M172.5 465V494 M172.5 546V560 M416.9 692V720 M417.5 775V801.5 M416.9 855V880"/>
</g>
<!-- 90_labels -->
<g id="leaders">
<path class="a" d="M474.8 86.9L452.9 99.5M474.8 124.8L457.9 134.9M389.5 192.0L400.5 185.5M371.2 218.8L387.5 227.0M346.2 233.0L355.0 238.0M470.0 218.8L458.0 225.5M500.0 237.0L490.0 242.5M535.5 214.5L526.2 220.0M580.0 215.5L570.0 223.0M526.2 257.5L513.8 263.8M526.2 278.0L512.0 283.8M571.2 316.2L560.0 322.5M627.5 349.5L612.5 357.5M372.0 394.5L385.0 387.5M373.8 465.0L391.2 455.0M485.0 495.0L471.2 503.8M386.2 511.2L408.8 497.5M386.2 533.0L407.5 520.0M386.2 594.2L402.0 585.5M386.2 667.5L403.8 657.5M385.5 695.8L405.5 685.0M462.5 705.5L450.0 713.8M365.0 771.2L380.0 764.2M365.0 832.5L386.2 822.5M475.2 866.3L462.5 873.4M529.9 914.1L520.1 920.6M442.9 929.6L430.2 936.6M240.7 278.5L227.8 284.9M240.7 302.8L226.2 310.8M264.6 318.3L246.7 329.7M263.6 362.5L248.7 370.1M263.6 387.4L250.7 395.4M263.6 411.3L251.7 417.3M152.9 447.7L161.8 453.6M130.8 473.7L141.1 480.1M249.7 488.6L234.8 496.6M249.7 502.0L230.8 511.5M249.7 519.9L231.8 529.4M249.7 535.8L230.8 545.4M249.7 553.7L230.8 564.3M248.3 631.5L229.8 642.1M248.3 652.0L227.0 664.0M140.7 654.8L156.2 647.8M140.7 701.1L157.6 692.7M140.7 750.3L167.4 738.2M216.6 747.5L199.7 756.7M249.0 815.9L228.0 828.1M226.4 902.4L205.4 913.7"/>
</g>
<g id="labels">
<text class="t" x="478.0" y="88.4">1</text><text class="t" x="479.0" y="126.4">2</text><text class="t" x="384.5" y="198.4">3</text><text class="t" x="366.8" y="218.9">4</text><text class="t" x="341.8" y="233.4">5</text><text class="t" x="473.8" y="218.9">6</text><text class="t" x="503.8" y="237.2">7</text><text class="t" x="539.5" y="215.4">8</text><text class="t" x="584.5" y="215.9">9</text><text class="t" x="532.5" y="257.9">10</text><text class="t" x="532.0" y="277.9">11</text><text class="t" x="578.2" y="315.9">12</text><text class="t" x="634.5" y="348.4">13</text><text class="t" x="367.0" y="401.4">14</text><text class="t" x="367.0" y="472.1">15</text><text class="t" x="491.2" y="494.6">16</text><text class="t" x="378.8" y="518.4">17</text><text class="t" x="378.8" y="540.4">18</text><text class="t" x="378.8" y="601.4">19</text><text class="t" x="378.8" y="674.6">20</text><text class="t" x="378.0" y="702.9">21</text><text class="t" x="468.0" y="705.4">22</text><text class="t" x="358.8" y="778.9">23</text><text class="t" x="358.8" y="840.4">24</text><text class="t" x="482.5" y="865.4">25</text><text class="t" x="537.5" y="913.3">26</text><text class="t" x="449.3" y="928.7">27</text><text class="t" x="248.1" y="277.7">28</text><text class="t" x="248.1" y="301.2">29</text><text class="t" x="270.6" y="318.1">30</text><text class="t" x="270.6" y="361.4">31</text><text class="t" x="270.6" y="385.9">32</text><text class="t" x="270.6" y="410.2">33</text><text class="t" x="256.7" y="487.0">36</text><text class="t" x="256.7" y="500.6">37</text><text class="t" x="256.7" y="518.5">38</text><text class="t" x="256.7" y="534.4">39</text><text class="t" x="256.7" y="552.4">40</text><text class="t" x="145.5" y="446.7">34</text><text class="t" x="124.3" y="473.2">35</text><text class="t" x="255.9" y="630.1">41</text><text class="t" x="255.9" y="650.6">42</text><text class="t" x="133.1" y="663.2">43</text><text class="t" x="133.1" y="709.6">44</text><text class="t" x="133.1" y="759.3">45</text><text class="t" x="225.0" y="745.3">46</text><text class="t" x="256.4" y="814.7">47</text><text class="t" x="234.4" y="901.0">48</text>
</g>
</svg>
</body></html>
